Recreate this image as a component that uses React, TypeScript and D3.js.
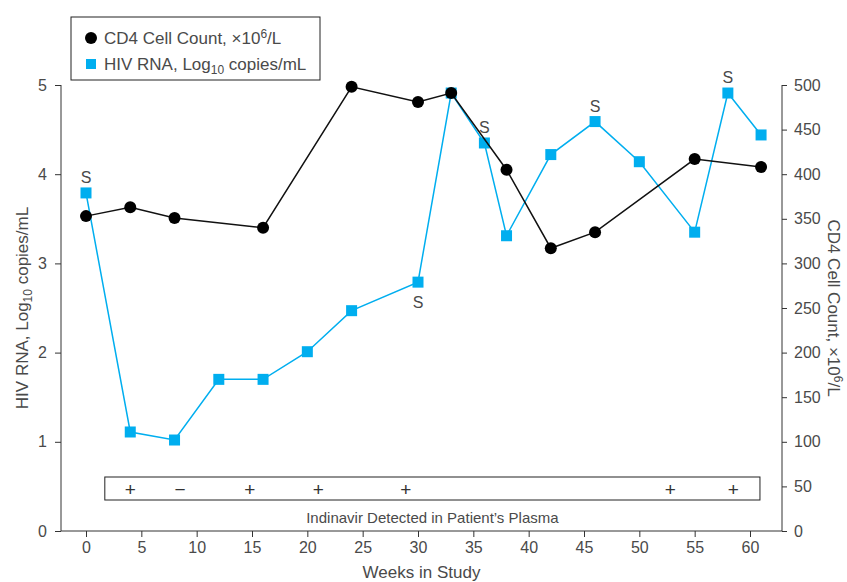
import React, { useEffect, useRef } from 'react';
import * as d3 from 'd3';

// CD4 cell count (right axis, x10^6/L)
const cd4Weeks = [0, 4, 8, 16, 24, 30, 33, 38, 42, 46, 55, 61];
const cd4Values = [353, 363, 351, 340, 498, 481, 491, 405, 317, 335, 417, 408];

// HIV RNA (left axis, log10 copies/mL)
const rnaWeeks = [0, 4, 8, 12, 16, 20, 24, 30, 33, 36, 38, 42, 46, 50, 55, 58, 61];
const rnaValues = [3.79, 1.11, 1.02, 1.7, 1.7, 2.01, 2.47, 2.79, 4.91, 4.35, 3.31, 4.22, 4.59, 4.14, 3.35, 4.91, 4.44];

// "S" annotations on the HIV RNA series
const sWeeks = [0, 30, 36, 46, 58];
const sBelow = [false, true, false, false, false];

// Indinavir detection marks
const indinavirWeeks = [4, 8.5, 14.8, 21, 28.9, 52.8, 58.5];
const indinavirSigns = ['+', '−', '+', '+', '+', '+', '+'];

const xTicks = [0, 5, 10, 15, 20, 25, 30, 35, 40, 45, 50, 55, 60];
const leftTicks = [0, 1, 2, 3, 4, 5];
const rightTicks = [0, 50, 100, 150, 200, 250, 300, 350, 400, 450, 500];

const BLUE = '#00aeef';
const TEXT = '#4a4a4a';
const FONT = '"Liberation Sans", Arial, sans-serif';

const App = () => {
  const svgRef = useRef(null);

  useEffect(() => {
    const svg = d3.select(svgRef.current);
    svg.selectAll('*').remove();

    const left = 61, right = 782, top = 85, bottom = 531;

    const x = d3.scaleLinear().domain([0, 60]).range([86, 750]);
    const yL = d3.scaleLinear().domain([0, 5]).range([bottom, top]);
    const yR = d3.scaleLinear().domain([0, 500]).range([bottom, top]);

    const g = svg.append('g').style('font-family', FONT);

    // axes
    const axisStyle = sel => {
      sel.select('.domain').remove();
      sel.selectAll('.tick line').attr('stroke', '#333');
      sel.selectAll('.tick text').attr('fill', TEXT).style('font-size', '16px').style('font-family', FONT);
    };

    g.append('g')
      .attr('transform', `translate(${left},0)`)
      .call(d3.axisLeft(yL).tickValues(leftTicks).tickFormat(d3.format('d')).tickSize(6).tickPadding(8))
      .call(axisStyle);

    g.append('g')
      .attr('transform', `translate(${right},0)`)
      .call(d3.axisRight(yR).tickValues(rightTicks).tickSize(5).tickPadding(7))
      .call(axisStyle);

    g.append('g')
      .attr('transform', `translate(0,${bottom})`)
      .call(d3.axisBottom(x).tickValues(xTicks).tickSize(6).tickPadding(5))
      .call(axisStyle);

    g.append('line').attr('x1', left).attr('x2', left).attr('y1', top).attr('y2', bottom).attr('stroke', '#333');
    g.append('line').attr('x1', right).attr('x2', right).attr('y1', top).attr('y2', bottom).attr('stroke', '#333');
    g.append('line').attr('x1', left).attr('x2', right).attr('y1', bottom).attr('y2', bottom).attr('stroke', '#333');

    // axis titles
    g.append('text')
      .attr('transform', `translate(28,${(top + bottom) / 2}) rotate(-90)`)
      .attr('text-anchor', 'middle')
      .attr('fill', TEXT)
      .style('font-size', '17px')
      .call(t => {
        t.append('tspan').text('HIV RNA, Log');
        t.append('tspan').attr('dy', 4).style('font-size', '12px').text('10');
        t.append('tspan').attr('dy', -4).text(' copies/mL');
      });

    g.append('text')
      .attr('transform', `translate(828,${(top + bottom) / 2}) rotate(90)`)
      .attr('text-anchor', 'middle')
      .attr('fill', TEXT)
      .style('font-size', '17px')
      .call(t => {
        t.append('tspan').text('CD4 Cell Count, ×10');
        t.append('tspan').attr('dy', -6).style('font-size', '12px').text('6');
        t.append('tspan').attr('dy', 6).text('/L');
      });

    g.append('text')
      .attr('x', (left + right) / 2)
      .attr('y', 578)
      .attr('text-anchor', 'middle')
      .attr('fill', TEXT)
      .style('font-size', '17px')
      .text('Weeks in Study');

    // Indinavir box
    g.append('rect')
      .attr('x', x(1.7)).attr('y', 477)
      .attr('width', x(60.9) - x(1.7)).attr('height', 23)
      .attr('fill', 'none').attr('stroke', '#222').attr('stroke-width', 1);

    g.selectAll('text.sign')
      .data(indinavirWeeks)
      .enter().append('text')
      .attr('class', 'sign')
      .attr('x', d => x(d))
      .attr('y', 496)
      .attr('text-anchor', 'middle')
      .attr('fill', '#333')
      .style('font-size', '19px')
      .text((d, i) => indinavirSigns[i]);

    g.append('text')
      .attr('x', (x(1.7) + x(60.9)) / 2)
      .attr('y', 523)
      .attr('text-anchor', 'middle')
      .attr('fill', TEXT)
      .style('font-size', '15px')
      .text('Indinavir Detected in Patient’s Plasma');

    // HIV RNA series
    const rna = rnaWeeks.map((w, i) => ({ w, v: rnaValues[i] }));
    const cd4 = cd4Weeks.map((w, i) => ({ w, v: cd4Values[i] }));

    g.append('path')
      .datum(rna)
      .attr('fill', 'none')
      .attr('stroke', BLUE)
      .attr('stroke-width', 1.5)
      .attr('d', d3.line().x(d => x(d.w)).y(d => yL(d.v)));

    const sq = 11;
    g.selectAll('rect.rna')
      .data(rna)
      .enter().append('rect')
      .attr('class', 'rna')
      .attr('x', d => x(d.w) - sq / 2)
      .attr('y', d => yL(d.v) - sq / 2)
      .attr('width', sq).attr('height', sq)
      .attr('fill', BLUE);

    // CD4 series
    g.append('path')
      .datum(cd4)
      .attr('fill', 'none')
      .attr('stroke', '#111')
      .attr('stroke-width', 1.5)
      .attr('d', d3.line().x(d => x(d.w)).y(d => yR(d.v)));

    g.selectAll('circle.cd4')
      .data(cd4)
      .enter().append('circle')
      .attr('class', 'cd4')
      .attr('cx', d => x(d.w))
      .attr('cy', d => yR(d.v))
      .attr('r', 6)
      .attr('fill', '#000');

    // S labels
    g.selectAll('text.s')
      .data(sWeeks)
      .enter().append('text')
      .attr('class', 's')
      .attr('x', d => x(d))
      .attr('y', (d, i) => {
        const v = rnaValues[rnaWeeks.indexOf(d)];
        return sBelow[i] ? yL(v) + 26 : yL(v) - 10;
      })
      .attr('text-anchor', 'middle')
      .attr('fill', TEXT)
      .style('font-size', '16px')
      .text('S');

    // legend
    const lg = g.append('g');
    lg.append('rect')
      .attr('x', 71).attr('y', 17).attr('width', 249).attr('height', 63)
      .attr('fill', '#fff').attr('stroke', '#222').attr('stroke-width', 1);
    lg.append('circle').attr('cx', 91).attr('cy', 38).attr('r', 6).attr('fill', '#000');
    lg.append('rect').attr('x', 86).attr('y', 59).attr('width', 10).attr('height', 10).attr('fill', BLUE);
    lg.append('text')
      .attr('x', 104).attr('y', 44)
      .attr('fill', TEXT).style('font-size', '17px')
      .call(t => {
        t.append('tspan').text('CD4 Cell Count, ×10');
        t.append('tspan').attr('dy', -6).style('font-size', '12px').text('6');
        t.append('tspan').attr('dy', 6).text('/L');
      });
    lg.append('text')
      .attr('x', 104).attr('y', 70)
      .attr('fill', TEXT).style('font-size', '17px')
      .call(t => {
        t.append('tspan').text('HIV RNA, Log');
        t.append('tspan').attr('dy', 4).style('font-size', '12px').text('10');
        t.append('tspan').attr('dy', -4).text(' copies/mL');
      });
  }, []);

  return <svg ref={svgRef} width={847} height={582} style={{ position: 'absolute', left: 0, top: 0, background: '#fff' }}></svg>;
};

export default App;
